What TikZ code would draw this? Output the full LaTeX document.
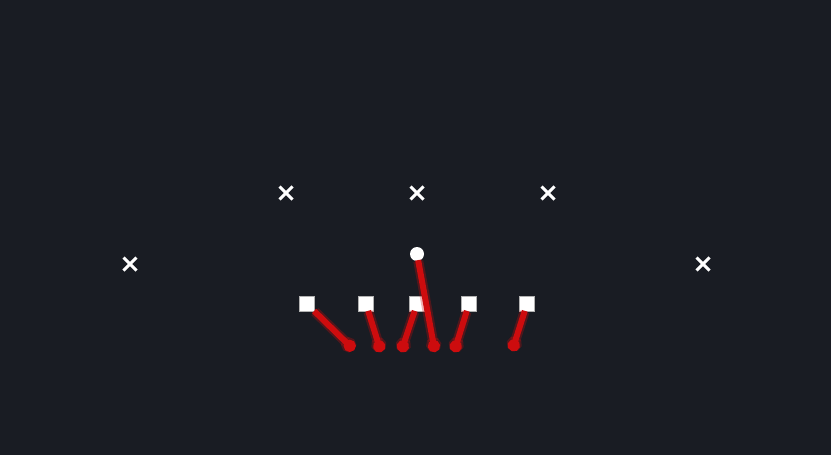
\documentclass[tikz,border=0pt]{standalone}
\usetikzlibrary{arrows.meta,shapes.misc}
\definecolor{bg}{RGB}{25,28,35}
\definecolor{rt}{RGB}{205,12,14}
\begin{document}
\begin{tikzpicture}[x=1pt,y=-1pt,
  defender/.style={cross out,draw=white,line width=3pt,minimum size=10pt,inner sep=0pt},
  lineman/.style={rectangle,fill=white,draw=gray!60,line width=0.6pt,minimum size=15pt,inner sep=0pt},
  back/.style={circle,fill=white,minimum size=14pt,inner sep=0pt},
  block/.style={draw=rt,line width=6pt,-{Circle[length=12pt,width=12pt]},shorten <=-1pt},
  glow/.style={draw=rt,opacity=0.3,line width=10pt,-{Circle[length=15pt,width=15pt]}}]
\fill[bg] (0,0) rectangle (831,455);
\useasboundingbox (0,0) rectangle (831,455);
% defenders
\node[defender] (d1) at (286,193) {};
\node[defender] (d2) at (417,193) {};
\node[defender] (d3) at (548,193) {};
\node[defender] (d4) at (130,264) {};
\node[defender] (d5) at (703,264) {};
% offense
\node[lineman] (s1) at (307,304) {};
\node[lineman] (s2) at (366,304) {};
\node[lineman] (s3) at (417,304) {};
\node[lineman] (s4) at (469,304) {};
\node[lineman] (s5) at (527,304) {};
\node[back] (qb) at (417,254) {};
% endpoints
\coordinate (e1) at (354,350);
\coordinate (e2) at (381,352);
\coordinate (e3) at (401,352);
\coordinate (e4) at (435,352);
\coordinate (e5) at (454,352);
\coordinate (e6) at (512,351);
\foreach \s/\e in {s1/e1,s2/e2,s3/e3,qb/e4,s4/e5,s5/e6}{
  \draw[glow] (\s) -- (\e);
}
\foreach \s/\e in {s1/e1,s2/e2,s3/e3,qb/e4,s4/e5,s5/e6}{
  \draw[block] (\s) -- (\e);
}
\end{tikzpicture}
\end{document}
